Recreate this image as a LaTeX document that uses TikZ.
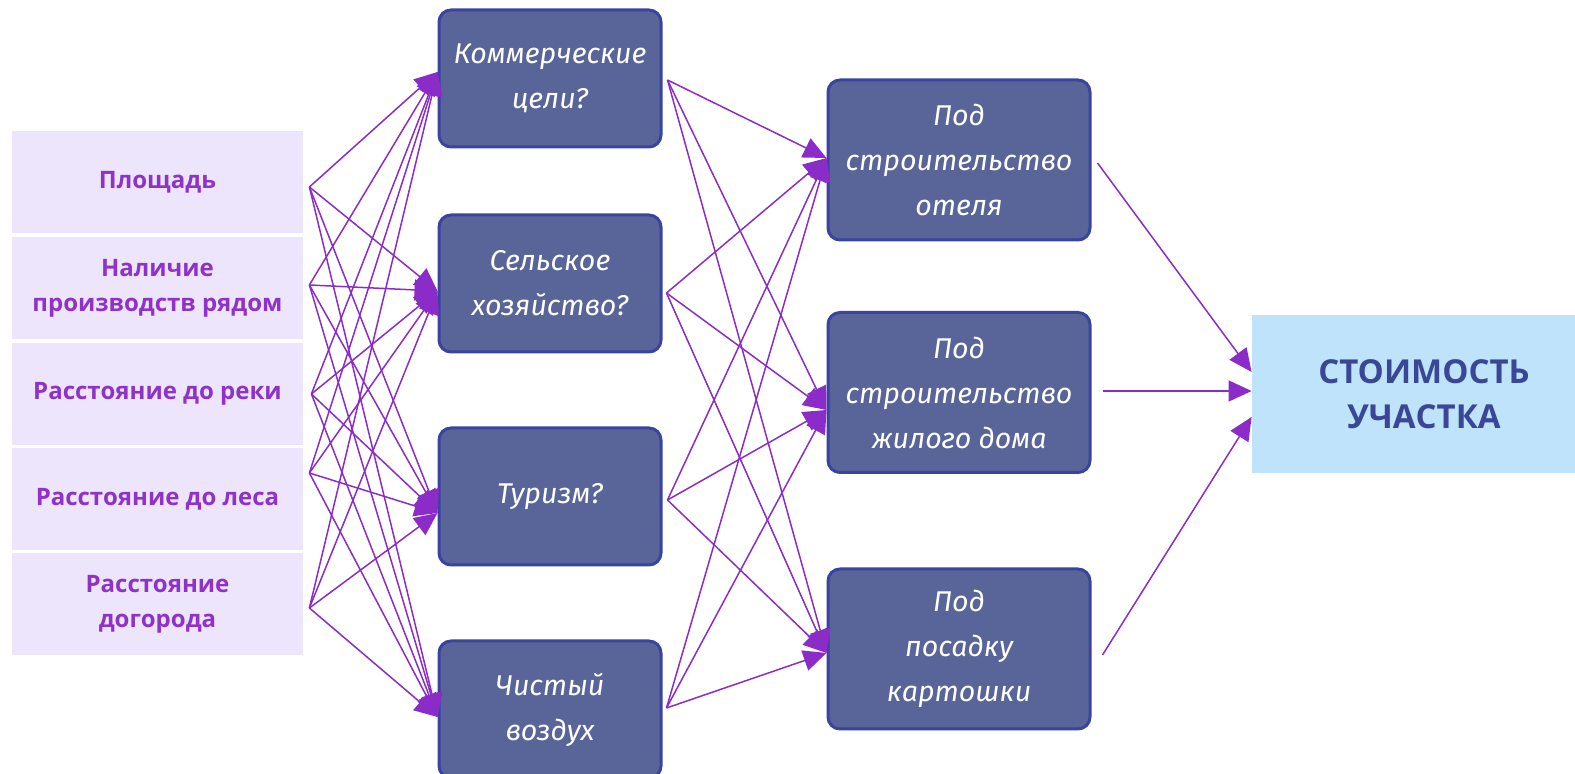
\documentclass[tikz,border=0pt]{standalone}
\usepackage{fontspec}
\setmainfont{Open Sans}
\newfontfamily\handfont{Fira Sans}
\usetikzlibrary{arrows.meta}
\definecolor{lilac}{RGB}{237,229,252}
\definecolor{plum}{RGB}{142,50,200}
\definecolor{slate}{RGB}{89,101,153}
\definecolor{navy}{RGB}{58,68,158}
\definecolor{sky}{RGB}{190,227,250}
\definecolor{ink}{RGB}{58,70,150}
\definecolor{wire}{RGB}{140,44,200}
\tikzset{
	factor/.style={rectangle,fill=lilac,text=plum,align=center,inner sep=0pt,
		minimum width=145.5pt,minimum height=51pt,
		font=\bfseries\fontsize{12}{17.5}\selectfont},
	option/.style={rectangle,rounded corners=6pt,draw=navy,line width=1.5pt,fill=slate,
		text=white,align=center,inner sep=0pt,
		font=\handfont\itshape\fontsize{14.3}{22.5}\selectfont},
	goal/.style={rectangle,fill=sky,text=ink,align=center,inner sep=0pt,
		minimum width=172pt,minimum height=79pt,
		font=\bfseries\fontsize{16.5}{22.5}\selectfont},
	link/.style={draw=wire,line width=0.75pt,-{Triangle[length=11.5pt,width=10.5pt]}}
}
\begin{document}
\begin{tikzpicture}[x=0.5pt,y=-0.5pt]
		\useasboundingbox (0,0) rectangle (1575,774);
		\node[factor] (f1) at (157.5,182) {Площадь};
		\node[factor] (f2) at (157.5,288) {Наличие\\производств рядом};
		\node[factor] (f3) at (157.5,394) {Расстояние до реки};
		\node[factor] (f4) at (157.5,499.5) {Расстояние до леса};
		\node[factor] (f5) at (157.5,604.5) {Расстояние\\догорода};
		\node[option,minimum width=111pt,minimum height=68.5pt] (u1) at (550,78.5) {Коммерческие\\цели?};
		\node[option,minimum width=111pt,minimum height=68.5pt] (u2) at (550,283.5) {Сельское\\хозяйство?};
		\node[option,minimum width=111pt,minimum height=68.5pt] (u3) at (550,496.5) {Туризм?};
		\node[option,minimum width=111pt,minimum height=68.5pt] (u4) at (550,709.5) {Чистый\\воздух};
		\node[option,minimum width=131pt,minimum height=80pt] (p1) at (959,160) {Под\\строительство\\отеля};
		\node[option,minimum width=131pt,minimum height=80pt] (p2) at (959,392.5) {Под\\строительство\\жилого дома};
		\node[option,minimum width=131pt,minimum height=80pt] (p3) at (959,649) {Под\\посадку\\картошки};
		\node[goal] (cost) at (1424,394) {СТОИМОСТЬ\\УЧАСТКА};
		\coordinate (f1o) at ([shift={(3pt,-2.5pt)}]f1.east);
		\coordinate (f2o) at ([shift={(3pt,1.5pt)}]f2.east);
		\coordinate (f3o) at ([shift={(4pt,0pt)}]f3.east);
		\coordinate (f4o) at ([shift={(3pt,13.25pt)}]f4.east);
		\coordinate (f5o) at ([shift={(3pt,-1.75pt)}]f5.east);
		\coordinate (u1i) at ([yshift=3.25pt]u1.west);
		\coordinate (u2i) at ([yshift=-3.75pt]u2.west);
		\coordinate (u3i) at ([yshift=-8.25pt]u3.west);
		\coordinate (u4i) at ([yshift=-3.75pt]u4.west);
		\coordinate (u1o) at ([shift={(2.5pt,-0.75pt)}]u1.east);
		\coordinate (u2o) at ([shift={(2pt,-4.75pt)}]u2.east);
		\coordinate (u3o) at ([shift={(2.5pt,-1.75pt)}]u3.east);
		\coordinate (u4o) at ([shift={(2pt,0.75pt)}]u4.east);
		\coordinate (p1i) at ([yshift=1pt]p1.west);
		\coordinate (p2i) at ([yshift=-8.75pt]p2.west);
		\coordinate (p3i) at ([yshift=-2pt]p3.west);
		\coordinate (p1o) at ([shift={(3pt,-1.5pt)}]p1.east);
		\coordinate (p2o) at ([shift={(5.5pt,0.75pt)}]p2.east);
		\coordinate (p3o) at ([shift={(5.5pt,-3pt)}]p3.east);
		\coordinate (c1) at ([yshift=11pt]cost.west);
		\coordinate (c2) at ([yshift=1.5pt]cost.west);
		\coordinate (c3) at ([yshift=-11.5pt]cost.west);
		\foreach \i in {1,...,5}
			\foreach \j in {1,...,4}
				\draw[link] (f\i o) -- (u\j i);
		\foreach \i in {1,...,4}
			\foreach \j in {1,...,3}
				\draw[link] (u\i o) -- (p\j i);
		\foreach \i in {1,...,3}
			\draw[link] (p\i o) -- (c\i);
	\end{tikzpicture}
\end{document}
